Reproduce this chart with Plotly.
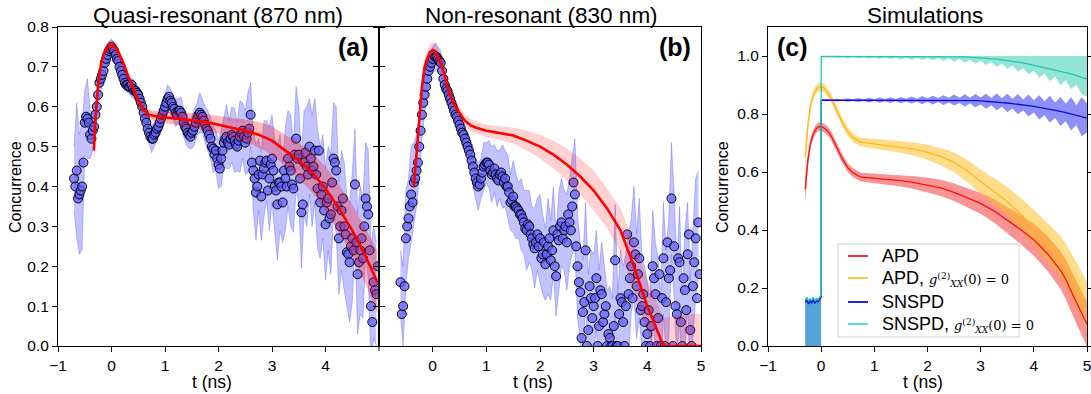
import plotly.graph_objects as go
import numpy as np

W, H = 1091, 394
FONT = "Liberation Sans, Arial, sans-serif"

# ---------------- Panel (a): quasi-resonant data ----------------
t_a = [-0.70, -0.65, -0.60, -0.55, -0.50, -0.45, -0.40, -0.35, -0.30, -0.25,
       -0.20, -0.15, -0.10, -0.05, 0.00, 0.05, 0.10, 0.15, 0.20, 0.25,
       0.30, 0.35, 0.40, 0.45, 0.50, 0.55, 0.60, 0.65, 0.70, 0.75,
       0.80, 0.85, 0.90, 0.95, 1.00, 1.05, 1.10, 1.15, 1.20, 1.25,
       1.30, 1.35, 1.40, 1.45, 1.50, 1.55, 1.60, 1.65, 1.70, 1.75,
       1.80, 1.85, 1.90, 1.95, 2.00, 2.05, 2.10, 2.15, 2.20, 2.25,
       2.30, 2.35, 2.40, 2.45, 2.50, 2.55, 2.60, 2.65, 2.70, 2.75,
       2.80, 2.85, 2.90, 2.95, 3.00, 3.05, 3.10, 3.15, 3.20, 3.25,
       3.30, 3.35, 3.40, 3.45, 3.50, 3.55, 3.60, 3.65, 3.70, 3.75,
       3.80, 3.85, 3.90, 3.95, 4.00, 4.05, 4.10, 4.15, 4.20, 4.25,
       4.30, 4.35, 4.40, 4.45, 4.50, 4.55, 4.60, 4.65, 4.70, 4.75,
       4.80, 4.85, 4.90, 4.95]
conc_a = [0.42, 0.44, 0.38, 0.40, 0.56, 0.57, 0.53, 0.54, 0.58, 0.63,
          0.67, 0.69, 0.72, 0.74, 0.75, 0.74, 0.72, 0.70, 0.68, 0.66,
          0.655, 0.65, 0.645, 0.64, 0.63, 0.61, 0.585, 0.56, 0.535, 0.52,
          0.53, 0.545, 0.56, 0.58, 0.60, 0.62, 0.615, 0.60, 0.585, 0.59,
          0.585, 0.56, 0.545, 0.53, 0.535, 0.55, 0.57, 0.585, 0.575, 0.555,
          0.54, 0.52, 0.495, 0.49, 0.455, 0.47, 0.51, 0.525, 0.505, 0.53,
          0.515, 0.50, 0.525, 0.54, 0.51, 0.535, 0.58, 0.44, 0.385, 0.43,
          0.375, 0.445, 0.465, 0.42, 0.47, 0.40, 0.355, 0.41, 0.36, 0.42,
          0.47, 0.44, 0.395, 0.52, 0.48, 0.335, 0.46, 0.45, 0.50, 0.44,
          0.49, 0.395, 0.36, 0.40, 0.305, 0.37, 0.33, 0.47, 0.44, 0.27,
          0.34, 0.30, 0.235, 0.21, 0.27, 0.405, 0.18, 0.24, 0.22, 0.37,
          0.33, 0.10, 0.16, 0.13]
# extra samples half-way between the main ones
conc_a_mid = [0.40, 0.37, 0.39, 0.46, 0.575, 0.56, 0.52, 0.55, 0.60, 0.66,
              0.68, 0.71, 0.73, 0.745, 0.745, 0.73, 0.715, 0.69, 0.67, 0.655,
              0.65, 0.655, 0.64, 0.635, 0.62, 0.60, 0.57, 0.545, 0.525, 0.52,
              0.535, 0.55, 0.57, 0.59, 0.61, 0.625, 0.61, 0.595, 0.58, 0.59,
              0.575, 0.55, 0.535, 0.525, 0.54, 0.56, 0.58, 0.58, 0.565, 0.545,
              0.53, 0.50, 0.48, 0.47, 0.445, 0.49, 0.52, 0.51, 0.52, 0.525,
              0.505, 0.515, 0.535, 0.525, 0.52, 0.545, 0.46, 0.42, 0.40, 0.465,
              0.43, 0.46, 0.39, 0.455, 0.44, 0.39, 0.41, 0.40, 0.44, 0.40,
              0.45, 0.405, 0.48, 0.47, 0.42, 0.355, 0.485, 0.43, 0.47, 0.45,
              0.43, 0.49, 0.38, 0.34, 0.36, 0.32, 0.41, 0.46, 0.35, 0.30,
              0.37, 0.28, 0.23, 0.25, 0.24, 0.26, 0.21, 0.27, 0.30, 0.35,
              0.24, 0.06, 0.14, 0.20]
err_a = [0.08, 0.17, 0.15, 0.16, 0.08, 0.10, 0.06, 0.05, 0.04, 0.03,
         0.03, 0.025, 0.02, 0.025, 0.02, 0.02, 0.015, 0.02, 0.02, 0.02,
         0.02, 0.02, 0.025, 0.02, 0.02, 0.025, 0.025, 0.03, 0.03, 0.035,
         0.03, 0.03, 0.03, 0.035, 0.03, 0.035, 0.03, 0.03, 0.035, 0.03,
         0.04, 0.035, 0.04, 0.035, 0.04, 0.045, 0.04, 0.05, 0.04, 0.045,
         0.05, 0.05, 0.06, 0.05, 0.06, 0.07, 0.06, 0.08, 0.06, 0.07,
         0.08, 0.06, 0.09, 0.07, 0.08, 0.10, 0.08, 0.10, 0.12, 0.09,
         0.11, 0.12, 0.10, 0.13, 0.11, 0.12, 0.14, 0.12, 0.10, 0.13,
         0.12, 0.14, 0.11, 0.13, 0.12, 0.14, 0.13, 0.15, 0.12, 0.14,
         0.13, 0.15, 0.14, 0.13, 0.14, 0.13, 0.15, 0.14, 0.16, 0.14,
         0.15, 0.16, 0.14, 0.15, 0.16, 0.14, 0.15, 0.16, 0.15, 0.14,
         0.16, 0.15, 0.14, 0.13]

model_t_a = [-0.33, -0.30, -0.25, -0.20, -0.15, -0.10, -0.05, 0.00, 0.05, 0.10,
             0.15, 0.20, 0.25, 0.30, 0.40, 0.50, 0.60, 0.70, 0.80, 1.00,
             1.25, 1.50, 1.75, 2.00, 2.25, 2.50, 2.75, 3.00, 3.25, 3.50,
             3.75, 4.00, 4.25, 4.50, 4.75, 4.97]
model_a = [0.49, 0.57, 0.655, 0.705, 0.732, 0.745, 0.752, 0.755, 0.752, 0.745,
           0.73, 0.715, 0.70, 0.68, 0.645, 0.615, 0.592, 0.58, 0.577, 0.573,
           0.57, 0.566, 0.562, 0.555, 0.548, 0.54, 0.53, 0.515, 0.49, 0.465,
           0.435, 0.395, 0.345, 0.29, 0.225, 0.16]
model_err_a = [0.05, 0.03, 0.02, 0.015, 0.012, 0.012, 0.012, 0.012, 0.012, 0.012,
               0.012, 0.012, 0.012, 0.012, 0.012, 0.012, 0.012, 0.012, 0.013, 0.014,
               0.016, 0.018, 0.02, 0.022, 0.025, 0.028, 0.032, 0.036, 0.04, 0.045,
               0.05, 0.055, 0.06, 0.065, 0.07, 0.08]

# ---------------- Panel (b): non-resonant data ----------------
t_b = t_a[2:]
conc_b = [0.16, 0.10, 0.27, 0.32, 0.38, 0.41, 0.44, 0.50, 0.58, 0.63,
          0.67, 0.70, 0.72, 0.725, 0.72, 0.71, 0.67, 0.645, 0.63, 0.61,
          0.59, 0.575, 0.555, 0.535, 0.52, 0.50, 0.48, 0.45, 0.42, 0.40,
          0.42, 0.45, 0.46, 0.455, 0.43, 0.445, 0.42, 0.43, 0.425, 0.42,
          0.40, 0.36, 0.375, 0.35, 0.34, 0.33, 0.31, 0.29, 0.30, 0.27,
          0.245, 0.28, 0.27, 0.23, 0.205, 0.25, 0.215, 0.29, 0.175, 0.265,
          0.31, 0.29, 0.26, 0.31, 0.35, 0.38, 0.20, 0.135, 0.085, 0.24,
          0.04, 0.12, 0.10, 0.17, 0.05, 0.13, 0.08, 0.0, 0.02, 0.0,
          0.215, 0.0, 0.12, 0.06, 0.10, 0.13, 0.20, 0.26, 0.15, 0.22,
          0.10, 0.06, 0.03, 0.0, 0.20, 0.13, 0.07, 0.0, 0.22, 0.11,
          0.17, 0.37, 0.25, 0.08, 0.21, 0.0, 0.14, 0.23, 0.04, 0.15,
          0.27, 0.31]
conc_b_mid = [0.08, 0.15, 0.30, 0.35, 0.36, 0.42, 0.46, 0.54, 0.61, 0.65,
              0.69, 0.71, 0.73, 0.725, 0.715, 0.69, 0.655, 0.64, 0.62, 0.60,
              0.58, 0.565, 0.545, 0.53, 0.51, 0.49, 0.465, 0.435, 0.41, 0.405,
              0.435, 0.455, 0.46, 0.44, 0.435, 0.43, 0.415, 0.435, 0.41, 0.40,
              0.385, 0.365, 0.35, 0.345, 0.33, 0.32, 0.295, 0.305, 0.28, 0.255,
              0.26, 0.25, 0.22, 0.26, 0.23, 0.27, 0.24, 0.20, 0.28, 0.30,
              0.27, 0.30, 0.33, 0.29, 0.41, 0.25, 0.16, 0.02, 0.11, 0.0,
              0.15, 0.07, 0.12, 0.0, 0.14, 0.06, 0.10, 0.03, 0.0, 0.05,
              0.0, 0.08, 0.11, 0.0, 0.28, 0.17, 0.12, 0.23, 0.18, 0.09,
              0.13, 0.0, 0.09, 0.05, 0.17, 0.0, 0.18, 0.12, 0.0, 0.26,
              0.19, 0.0, 0.10, 0.22, 0.06, 0.17, 0.09, 0.28, 0.0, 0.21,
              0.12, 0.18]
err_b = [0.08, 0.10, 0.12, 0.10, 0.12, 0.10, 0.09, 0.08, 0.06, 0.05,
         0.04, 0.03, 0.03, 0.035, 0.03, 0.03, 0.025, 0.025, 0.03, 0.025,
         0.03, 0.025, 0.03, 0.03, 0.03, 0.035, 0.04, 0.05, 0.05, 0.06,
         0.05, 0.06, 0.05, 0.06, 0.07, 0.06, 0.07, 0.06, 0.08, 0.07,
         0.08, 0.07, 0.09, 0.08, 0.07, 0.09, 0.08, 0.10, 0.09, 0.08,
         0.10, 0.09, 0.11, 0.10, 0.09, 0.12, 0.10, 0.11, 0.10, 0.12,
         0.11, 0.10, 0.12, 0.11, 0.12, 0.14, 0.13, 0.12, 0.13, 0.12,
         0.14, 0.12, 0.13, 0.12, 0.14, 0.13, 0.12, 0.14, 0.13, 0.12,
         0.14, 0.13, 0.12, 0.14, 0.13, 0.15, 0.12, 0.14, 0.13, 0.15,
         0.12, 0.14, 0.13, 0.12, 0.14, 0.13, 0.15, 0.12, 0.14, 0.13,
         0.15, 0.14, 0.13, 0.12, 0.14, 0.13, 0.15, 0.13, 0.12, 0.14,
         0.15, 0.13]

model_t_b = [-0.35, -0.30, -0.25, -0.20, -0.15, -0.10, -0.05, 0.00, 0.05, 0.10,
             0.15, 0.20, 0.30, 0.40, 0.50, 0.60, 0.70, 0.80, 1.00, 1.25,
             1.50, 1.75, 2.00, 2.25, 2.50, 2.75, 3.00, 3.25, 3.50, 3.75,
             4.00, 4.15, 4.30, 4.50, 4.75, 5.00]
model_b = [0.40, 0.48, 0.565, 0.65, 0.70, 0.722, 0.737, 0.742, 0.738, 0.725,
           0.71, 0.69, 0.64, 0.605, 0.585, 0.565, 0.554, 0.548, 0.54, 0.534,
           0.528, 0.515, 0.50, 0.48, 0.455, 0.425, 0.39, 0.345, 0.29, 0.20,
           0.10, 0.05, 0.0, 0.0, 0.0, 0.0]
model_err_b = [0.02, 0.02, 0.02, 0.02, 0.02, 0.02, 0.02, 0.02, 0.02, 0.02,
               0.02, 0.02, 0.015, 0.015, 0.015, 0.015, 0.015, 0.015, 0.015, 0.018,
               0.02, 0.025, 0.03, 0.035, 0.04, 0.045, 0.05, 0.05, 0.055, 0.06,
               0.065, 0.07, 0.07, 0.075, 0.08, 0.08]

# ---------------- Panel (c): simulations ----------------
t_c = [-0.30, -0.25, -0.20, -0.15, -0.10, -0.05, 0.00, 0.05, 0.10, 0.15,
       0.20, 0.25, 0.30, 0.40, 0.50, 0.60, 0.75, 1.00, 1.25, 1.50,
       1.75, 2.00, 2.25, 2.50, 2.75, 3.00, 3.25, 3.50, 3.75, 4.00,
       4.25, 4.50, 4.60, 4.75, 5.00]
apd = [0.54, 0.64, 0.70, 0.73, 0.748, 0.756, 0.756, 0.752, 0.745, 0.735,
       0.72, 0.70, 0.68, 0.645, 0.615, 0.597, 0.582, 0.578, 0.574, 0.57,
       0.563, 0.555, 0.545, 0.53, 0.512, 0.492, 0.466, 0.435, 0.402, 0.366,
       0.32, 0.262, 0.23, 0.17, 0.075]
apd_err = [0.05, 0.025, 0.018, 0.015, 0.015, 0.015, 0.015, 0.015, 0.015, 0.015,
           0.015, 0.015, 0.015, 0.015, 0.015, 0.015, 0.015, 0.016, 0.018, 0.02,
           0.022, 0.025, 0.028, 0.03, 0.033, 0.036, 0.04, 0.045, 0.05, 0.055,
           0.06, 0.065, 0.068, 0.072, 0.078]
apd_g0 = [0.653, 0.76, 0.83, 0.865, 0.882, 0.892, 0.893, 0.89, 0.88, 0.865,
          0.85, 0.83, 0.81, 0.77, 0.74, 0.718, 0.703, 0.697, 0.692, 0.686,
          0.679, 0.668, 0.653, 0.633, 0.603, 0.567, 0.533, 0.498, 0.455, 0.41,
          0.36, 0.31, 0.28, 0.23, 0.14]
apd_g0_err = [0.04, 0.025, 0.018, 0.015, 0.015, 0.015, 0.015, 0.015, 0.015, 0.015,
              0.015, 0.015, 0.015, 0.015, 0.015, 0.015, 0.015, 0.016, 0.018, 0.02,
              0.023, 0.026, 0.03, 0.034, 0.038, 0.042, 0.046, 0.05, 0.055, 0.06,
              0.065, 0.07, 0.072, 0.075, 0.08]

t_pre = [-0.30, -0.27, -0.24, -0.21, -0.18, -0.15, -0.12, -0.09, -0.06, -0.03, 0.00]
snspd_pre = [0.15, 0.158, 0.145, 0.155, 0.148, 0.16, 0.147, 0.155, 0.152, 0.162, 0.168]
snspd_g0_pre = [0.16, 0.168, 0.155, 0.163, 0.158, 0.168, 0.156, 0.164, 0.16, 0.17, 0.175]

t_post = [0.0, 0.1, 0.2, 0.3, 0.4, 0.5, 0.6, 0.7, 0.8, 0.9,
          1.0, 1.1, 1.2, 1.3, 1.4, 1.5, 1.6, 1.7, 1.8, 1.9,
          2.0, 2.1, 2.2, 2.3, 2.4, 2.5, 2.6, 2.7, 2.8, 2.9,
          3.0, 3.1, 3.2, 3.3, 3.4, 3.5, 3.6, 3.7, 3.8, 3.9,
          4.0, 4.1, 4.2, 4.3, 4.4, 4.5, 4.6, 4.7, 4.8, 4.9, 5.0]
snspd = [0.848, 0.848, 0.848, 0.848, 0.848, 0.848, 0.848, 0.848, 0.848, 0.848,
         0.848, 0.848, 0.848, 0.848, 0.848, 0.848, 0.848, 0.848, 0.848, 0.848,
         0.848, 0.848, 0.848, 0.848, 0.848, 0.848, 0.847, 0.847, 0.846, 0.846,
         0.845, 0.844, 0.843, 0.842, 0.840, 0.838, 0.836, 0.834, 0.831, 0.829,
         0.826, 0.823, 0.820, 0.817, 0.813, 0.809, 0.805, 0.801, 0.796, 0.791, 0.786]
snspd_err = [0.002, 0.004, 0.002, 0.005, 0.002, 0.006, 0.003, 0.007, 0.003, 0.008,
             0.003, 0.009, 0.004, 0.010, 0.004, 0.011, 0.005, 0.012, 0.005, 0.014,
             0.006, 0.015, 0.007, 0.017, 0.008, 0.019, 0.009, 0.021, 0.010, 0.023,
             0.012, 0.026, 0.013, 0.029, 0.015, 0.032, 0.017, 0.035, 0.019, 0.038,
             0.021, 0.042, 0.024, 0.046, 0.027, 0.050, 0.030, 0.058, 0.034, 0.068, 0.05]
snspd_g0 = [0.999, 0.999, 0.999, 0.999, 0.999, 0.999, 0.999, 0.999, 0.999, 0.999,
            0.999, 0.999, 0.999, 0.999, 0.999, 0.999, 0.999, 0.999, 0.999, 0.999,
            0.999, 0.999, 0.999, 0.999, 0.999, 0.998, 0.998, 0.997, 0.996, 0.995,
            0.994, 0.993, 0.991, 0.989, 0.987, 0.985, 0.982, 0.979, 0.976, 0.972,
            0.969, 0.965, 0.961, 0.957, 0.953, 0.948, 0.943, 0.938, 0.932, 0.926, 0.92]
snspd_g0_low = [0.001, 0.004, 0.001, 0.005, 0.002, 0.006, 0.002, 0.007, 0.003, 0.008,
                0.003, 0.009, 0.004, 0.010, 0.004, 0.011, 0.005, 0.012, 0.005, 0.013,
                0.006, 0.014, 0.006, 0.016, 0.007, 0.018, 0.008, 0.020, 0.009, 0.022,
                0.010, 0.024, 0.011, 0.027, 0.013, 0.030, 0.015, 0.033, 0.017, 0.036,
                0.019, 0.040, 0.021, 0.044, 0.024, 0.048, 0.027, 0.053, 0.030, 0.058, 0.06]
snspd_g0_top = 1.0

for a, b in [(t_a, conc_a), (t_a, conc_a_mid), (t_a, err_a), (t_b, conc_b), (t_b, conc_b_mid),
             (t_b, err_b), (model_t_a, model_a), (model_t_a, model_err_a),
             (model_t_b, model_b), (model_t_b, model_err_b),
             (t_c, apd), (t_c, apd_err), (t_c, apd_g0), (t_c, apd_g0_err),
             (t_pre, snspd_pre), (t_pre, snspd_g0_pre),
             (t_post, snspd), (t_post, snspd_err), (t_post, snspd_g0), (t_post, snspd_g0_low)]:
    assert len(a) == len(b), (len(a), len(b))

# legend entries for panel (c)
g_txt = ("<span style=\"font-family:'DejaVu Serif', serif; font-size:13px\">"
         "<i>g</i><sup>(2)</sup><sub><i>XX</i></sub>(0) = 0</span>")
legend_names = ["APD", "APD, " + g_txt, "SNSPD", "SNSPD, " + g_txt]
legend_colors = ["#ff1010", "#ffbf33", "#0a0aee", "#4fdcc2"]

fig = go.Figure()


def band(t, lo, hi, fillcolor, edgecolor, xa, ya, edgewidth=0.8):
    fig.add_trace(go.Scatter(x=t, y=lo, mode="lines", line=dict(color=edgecolor, width=edgewidth),
                             showlegend=False, hoverinfo="skip", xaxis=xa, yaxis=ya))
    fig.add_trace(go.Scatter(x=t, y=hi, mode="lines", line=dict(color=edgecolor, width=edgewidth),
                             fill="tonexty", fillcolor=fillcolor,
                             showlegend=False, hoverinfo="skip", xaxis=xa, yaxis=ya))


def exp_panel(t, c, cmid, e, mt, m, me, xa, ya, red_fill):
    c = np.array(c); e = np.array(e); m = np.array(m); me = np.array(me)
    band(t, c - e, c + e, "rgba(80,80,255,0.35)", "rgba(80,80,255,0.45)", xa, ya)
    # interleave main samples and half-way samples
    tt = np.empty(2 * len(t)); cc = np.empty(2 * len(t))
    tt[0::2] = t; tt[1::2] = np.array(t) + 0.025
    cc[0::2] = c; cc[1::2] = cmid
    fig.add_trace(go.Scatter(x=tt, y=cc, mode="markers",
                             marker=dict(size=9, color="rgba(95,95,255,0.72)",
                                         line=dict(color="black", width=1)),
                             showlegend=False, xaxis=xa, yaxis=ya, cliponaxis=True))
    band(mt, m - me, m + me, red_fill, "rgba(255,0,0,0)", xa, ya, 0)
    fig.add_trace(go.Scatter(x=mt, y=m, mode="lines", line=dict(color="#ff0000", width=2.6),
                             showlegend=False, xaxis=xa, yaxis=ya))


exp_panel(t_a, conc_a, conc_a_mid, err_a, model_t_a, model_a, model_err_a, "x", "y",
          "rgba(255,0,0,0.28)")
exp_panel(t_b, conc_b, conc_b_mid, err_b, model_t_b, model_b, model_err_b, "x2", "y2",
          "rgba(255,0,0,0.18)")

# panel (c)
fig.add_trace(go.Scatter(x=t_pre, y=snspd_g0_pre, mode="lines", line=dict(width=0),
                         fill="tozeroy", fillcolor="rgba(60,150,212,0.88)",
                         showlegend=False, hoverinfo="skip", xaxis="x3", yaxis="y3"))
apd_a = np.array(apd); apd_e = np.array(apd_err)
g0_a = np.array(apd_g0); g0_e = np.array(apd_g0_err)
band(t_c, apd_a - apd_e, apd_a + apd_e, "rgba(245,40,40,0.5)", "rgba(0,0,0,0)", "x3", "y3", 0)
band(t_c, g0_a - g0_e, g0_a + g0_e, "rgba(255,185,20,0.5)", "rgba(0,0,0,0)", "x3", "y3", 0)
sn_a = np.array(snspd); sn_e = np.array(snspd_err)
band(t_post, sn_a - sn_e, sn_a + sn_e, "rgba(20,20,240,0.48)", "rgba(0,0,0,0)", "x3", "y3", 0)
tq_a = np.array(snspd_g0); tq_l = np.array(snspd_g0_low)
band(t_post, tq_a - tq_l, [snspd_g0_top] * len(t_post), "rgba(40,205,175,0.5)", "rgba(0,0,0,0)",
     "x3", "y3", 0)

fig.add_trace(go.Scatter(x=t_c, y=apd, mode="lines", line=dict(color="#ff1010", width=1.3),
                         showlegend=False, xaxis="x3", yaxis="y3"))
fig.add_trace(go.Scatter(x=t_c, y=apd_g0, mode="lines", line=dict(color="#ffb81c", width=1.3),
                         showlegend=False, xaxis="x3", yaxis="y3"))
fig.add_trace(go.Scatter(x=t_pre + t_post, y=snspd_pre + snspd, mode="lines",
                         line=dict(color="#0a0aee", width=1.3),
                         showlegend=False, xaxis="x3", yaxis="y3"))
fig.add_trace(go.Scatter(x=t_pre + t_post, y=snspd_g0_pre + snspd_g0, mode="lines",
                         line=dict(color="#22c6aa", width=1.3),
                         showlegend=False, xaxis="x3", yaxis="y3"))


def dx(p):
    return p / W


def dy(p):
    return 1 - p / H


ydom = [dy(346), dy(27)]
tickfont = dict(family=FONT, size=15.5, color="black")
common = dict(showline=True, linecolor="black", linewidth=1, showgrid=False, zeroline=False,
              ticks="outside", ticklen=5, tickcolor="black", tickfont=tickfont, automargin=False,
              ticklabeloverflow="allow")

fig.update_layout(
    width=W, height=H, autosize=False,
    margin=dict(l=0, r=0, t=0, b=0, pad=0, autoexpand=False),
    paper_bgcolor="white", plot_bgcolor="white",
    font=dict(family=FONT, color="black"),
    showlegend=False,
    xaxis=dict(domain=[dx(58), dx(379)], range=[-1, 5], anchor="y", mirror=True,
               tickvals=[-1, 0, 1, 2, 3, 4], **common),
    yaxis=dict(domain=ydom, range=[0, 0.8], anchor="x", mirror="ticks",
               tickvals=[0, 0.1, 0.2, 0.3, 0.4, 0.5, 0.6, 0.7, 0.8], tickformat=".1f", **common),
    xaxis2=dict(domain=[dx(379), dx(701)], range=[-1, 5], anchor="y2", mirror=True,
                tickvals=[0, 1, 2, 3, 4, 5], **common),
    yaxis2=dict(domain=ydom, range=[0, 0.8], anchor="x2", mirror=True, showticklabels=False,
                tickvals=[0, 0.1, 0.2, 0.3, 0.4, 0.5, 0.6, 0.7, 0.8], **common),
    xaxis3=dict(domain=[dx(768), dx(1087)], range=[-1, 5], anchor="y3", mirror=True,
                tickvals=[-1, 0, 1, 2, 3, 4, 5], **common),
    yaxis3=dict(domain=ydom, range=[0, 1.1], anchor="x3", mirror="ticks",
                tickvals=[0, 0.2, 0.4, 0.6, 0.8, 1.0], tickformat=".1f", **common),
)

ann = []
shapes = []


def add_text(x, y, text, size, bold=False, angle=0, xanchor="center"):
    ann.append(dict(x=dx(x), y=dy(y), xref="paper", yref="paper", text=("<b>%s</b>" % text) if bold else text,
                    showarrow=False, xanchor=xanchor, yanchor="middle", textangle=angle,
                    font=dict(family=FONT, size=size, color="black")))


add_text(218, 15, "Quasi-resonant (870 nm)", 22.5)
add_text(541, 15, "Non-resonant (830 nm)", 22.5)
add_text(925, 15, "Simulations", 22.5)
add_text(353, 47, "(a)", 25, bold=True)
add_text(675, 47, "(b)", 25, bold=True)
add_text(792, 47, "(c)", 25, bold=True)
add_text(212, 382, "t (ns)", 17.5)
add_text(533, 382, "t (ns)", 17.5)
add_text(923, 382, "t (ns)", 17.5)
add_text(15, 187, "Concurrence", 16, angle=-90)
add_text(722, 187, "Concurrence", 16, angle=-90)

# shared corner tick between panels (a) and (b)
shapes.append(dict(type="line", xref="paper", yref="paper", x0=dx(379), x1=dx(379), y0=dy(346), y1=dy(351),
                   line=dict(color="black", width=1)))

# legend box for panel (c)
shapes.append(dict(type="rect", xref="paper", yref="paper", x0=dx(838), x1=dx(1019), y0=dy(337), y1=dy(244),
                   line=dict(color="#d0d0d0", width=1), fillcolor="rgba(255,255,255,0.85)", layer="above"))
legend_rows = [256, 278, 302, 324]
for name, col, yy in zip(legend_names, legend_colors, legend_rows):
    shapes.append(dict(type="line", xref="paper", yref="paper", x0=dx(848), x1=dx(868), y0=dy(yy), y1=dy(yy),
                       line=dict(color=col, width=1.8), layer="above"))
    add_text(880, yy, name, 18, xanchor="left")

fig.update_layout(annotations=ann, shapes=shapes)

fig.write_html("out.html")
